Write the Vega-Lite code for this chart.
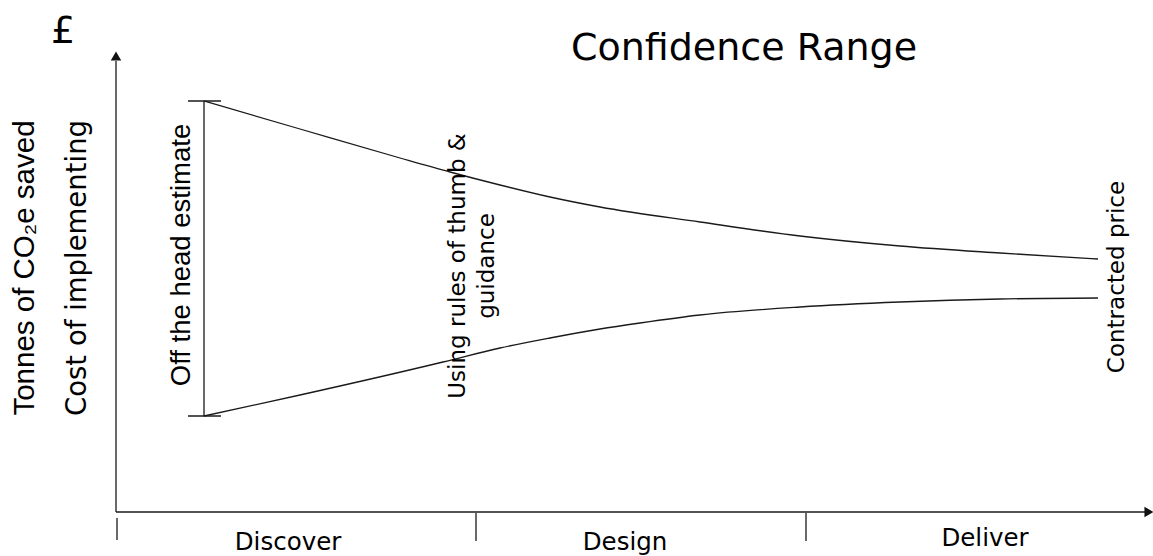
{
  "$schema": "https://vega.github.io/schema/vega-lite/v6.json",
  "width": 1034,
  "height": 462,
  "autosize": {"type": "none"},
  "padding": {"left": 116, "top": 50, "right": 3, "bottom": 44},
  "background": "white",
  "config": {"view": {"stroke": null}},
  "datasets": {
    "curves": [
      {"series": "upper", "x": 88, "y": 411},
      {"series": "upper", "x": 184, "y": 383},
      {"series": "upper", "x": 284, "y": 354},
      {"series": "upper", "x": 334, "y": 340},
      {"series": "upper", "x": 384, "y": 327},
      {"series": "upper", "x": 434, "y": 315},
      {"series": "upper", "x": 484, "y": 305},
      {"series": "upper", "x": 584, "y": 290},
      {"series": "upper", "x": 684, "y": 276},
      {"series": "upper", "x": 784, "y": 266},
      {"series": "upper", "x": 884, "y": 259},
      {"series": "upper", "x": 982, "y": 253},
      {"series": "lower", "x": 88, "y": 96},
      {"series": "lower", "x": 184, "y": 117},
      {"series": "lower", "x": 327, "y": 150},
      {"series": "lower", "x": 384, "y": 164},
      {"series": "lower", "x": 434, "y": 174},
      {"series": "lower", "x": 484, "y": 183},
      {"series": "lower", "x": 524, "y": 189},
      {"series": "lower", "x": 584, "y": 197},
      {"series": "lower", "x": 684, "y": 205},
      {"series": "lower", "x": 784, "y": 210},
      {"series": "lower", "x": 884, "y": 213},
      {"series": "lower", "x": 982, "y": 214}
    ],
    "segments": [
      {"part": "y axis", "x": 0, "y": 0, "x2": 0, "y2": 451},
      {"part": "x axis", "x": 0, "y": 0, "x2": 1031, "y2": 0},
      {"part": "stage start", "x": 1, "y": -6, "x2": 1, "y2": -28},
      {"part": "stage boundary 1", "x": 360, "y": -1, "x2": 360, "y2": -29},
      {"part": "stage boundary 2", "x": 690, "y": -1, "x2": 690, "y2": -29},
      {"part": "estimate range", "x": 88, "y": 96, "x2": 88, "y2": 411},
      {"part": "range cap top", "x": 72, "y": 411, "x2": 105, "y2": 411},
      {"part": "range cap bottom", "x": 72, "y": 96, "x2": 105, "y2": 96}
    ],
    "arrows": [
      {"dir": "up", "x": 0, "y": 456},
      {"dir": "right", "x": 1033, "y": 0}
    ],
    "labels": [
      {"kind": "title", "text": "Confidence Range", "x": 628, "y": 452},
      {"kind": "title", "text": "£", "x": -53, "y": 469},
      {"kind": "stage", "text": "Discover", "x": 172, "y": -38},
      {"kind": "stage", "text": "Design", "x": 509, "y": -38},
      {"kind": "stage", "text": "Deliver", "x": 869, "y": -34},
      {"kind": "arialV", "text": "Off the head estimate", "x": 66, "y": 257},
      {"kind": "arialV2", "text": "Tonnes of CO₂e saved", "x": -91, "y": 244},
      {"kind": "dejaV", "text": "Cost of implementing", "x": -38, "y": 244},
      {"kind": "dejaSmallV", "text": "Using rules of thumb &\nguidance", "x": 342, "y": 246},
      {"kind": "dejaSmallV", "text": "Contracted price", "x": 1001, "y": 235}
    ]
  },
  "layer": [
    {
      "data": {"name": "curves"},
      "mark": {"type": "line", "interpolate": "monotone", "stroke": "#1a1a1a", "strokeWidth": 1.3},
      "encoding": {
        "x": {"field": "x", "type": "quantitative", "scale": {"domain": [0, 1034], "nice": false, "zero": false}, "axis": null},
        "y": {"field": "y", "type": "quantitative", "scale": {"domain": [0, 462], "nice": false, "zero": false}, "axis": null},
        "detail": {"field": "series"}
      }
    },
    {
      "data": {"name": "segments"},
      "mark": {"type": "rule", "stroke": "#1a1a1a", "strokeWidth": 1.3},
      "encoding": {
        "x": {"field": "x", "type": "quantitative", "scale": {"domain": [0, 1034], "nice": false, "zero": false}, "axis": null},
        "y": {"field": "y", "type": "quantitative", "scale": {"domain": [0, 462], "nice": false, "zero": false}, "axis": null},
        "x2": {"field": "x2"},
        "y2": {"field": "y2"}
      }
    },
    {
      "data": {"name": "arrows"},
      "transform": [{"filter": "datum.dir === 'up'"}],
      "mark": {"type": "point", "shape": "triangle-up", "filled": true, "size": 110, "color": "#111", "opacity": 1},
      "encoding": {
        "x": {"field": "x", "type": "quantitative", "scale": {"domain": [0, 1034], "nice": false, "zero": false}, "axis": null},
        "y": {"field": "y", "type": "quantitative", "scale": {"domain": [0, 462], "nice": false, "zero": false}, "axis": null}
      }
    },
    {
      "data": {"name": "arrows"},
      "transform": [{"filter": "datum.dir === 'right'"}],
      "mark": {"type": "point", "shape": "triangle-right", "filled": true, "size": 110, "color": "#111", "opacity": 1},
      "encoding": {
        "x": {"field": "x", "type": "quantitative", "scale": {"domain": [0, 1034], "nice": false, "zero": false}, "axis": null},
        "y": {"field": "y", "type": "quantitative", "scale": {"domain": [0, 462], "nice": false, "zero": false}, "axis": null}
      }
    },
    {
      "data": {"name": "labels"},
      "transform": [{"filter": "datum.kind === 'title'"}],
      "mark": {"type": "text", "font": "DejaVu Sans", "fontSize": 38, "align": "center", "baseline": "alphabetic", "color": "#000"},
      "encoding": {
        "x": {"field": "x", "type": "quantitative", "scale": {"domain": [0, 1034], "nice": false, "zero": false}, "axis": null},
        "y": {"field": "y", "type": "quantitative", "scale": {"domain": [0, 462], "nice": false, "zero": false}, "axis": null},
        "text": {"field": "text"}
      }
    },
    {
      "data": {"name": "labels"},
      "transform": [{"filter": "datum.kind === 'stage'"}],
      "mark": {"type": "text", "font": "DejaVu Sans", "fontSize": 24.5, "align": "center", "baseline": "alphabetic", "color": "#000"},
      "encoding": {
        "x": {"field": "x", "type": "quantitative", "scale": {"domain": [0, 1034], "nice": false, "zero": false}, "axis": null},
        "y": {"field": "y", "type": "quantitative", "scale": {"domain": [0, 462], "nice": false, "zero": false}, "axis": null},
        "text": {"field": "text"}
      }
    },
    {
      "data": {"name": "labels"},
      "transform": [{"filter": "datum.kind === 'arialV'"}],
      "mark": {"type": "text", "font": "Liberation Sans", "fontSize": 27.5, "align": "center", "baseline": "middle", "angle": 270, "color": "#000"},
      "encoding": {
        "x": {"field": "x", "type": "quantitative", "scale": {"domain": [0, 1034], "nice": false, "zero": false}, "axis": null},
        "y": {"field": "y", "type": "quantitative", "scale": {"domain": [0, 462], "nice": false, "zero": false}, "axis": null},
        "text": {"field": "text"}
      }
    },
    {
      "data": {"name": "labels"},
      "transform": [{"filter": "datum.kind === 'arialV2'"}],
      "mark": {"type": "text", "font": "Liberation Sans", "fontSize": 29.5, "align": "center", "baseline": "middle", "angle": 270, "color": "#000"},
      "encoding": {
        "x": {"field": "x", "type": "quantitative", "scale": {"domain": [0, 1034], "nice": false, "zero": false}, "axis": null},
        "y": {"field": "y", "type": "quantitative", "scale": {"domain": [0, 462], "nice": false, "zero": false}, "axis": null},
        "text": {"field": "text"}
      }
    },
    {
      "data": {"name": "labels"},
      "transform": [{"filter": "datum.kind === 'dejaV'"}],
      "mark": {"type": "text", "font": "DejaVu Sans", "fontSize": 27.5, "align": "center", "baseline": "middle", "angle": 270, "color": "#000"},
      "encoding": {
        "x": {"field": "x", "type": "quantitative", "scale": {"domain": [0, 1034], "nice": false, "zero": false}, "axis": null},
        "y": {"field": "y", "type": "quantitative", "scale": {"domain": [0, 462], "nice": false, "zero": false}, "axis": null},
        "text": {"field": "text"}
      }
    },
    {
      "data": {"name": "labels"},
      "transform": [{"filter": "datum.kind === 'dejaSmallV'"}],
      "mark": {"type": "text", "font": "DejaVu Sans", "fontSize": 23, "lineHeight": 29, "lineBreak": "\n", "align": "center", "baseline": "middle", "angle": 270, "color": "#000"},
      "encoding": {
        "x": {"field": "x", "type": "quantitative", "scale": {"domain": [0, 1034], "nice": false, "zero": false}, "axis": null},
        "y": {"field": "y", "type": "quantitative", "scale": {"domain": [0, 462], "nice": false, "zero": false}, "axis": null},
        "text": {"field": "text"}
      }
    }
  ]
}
